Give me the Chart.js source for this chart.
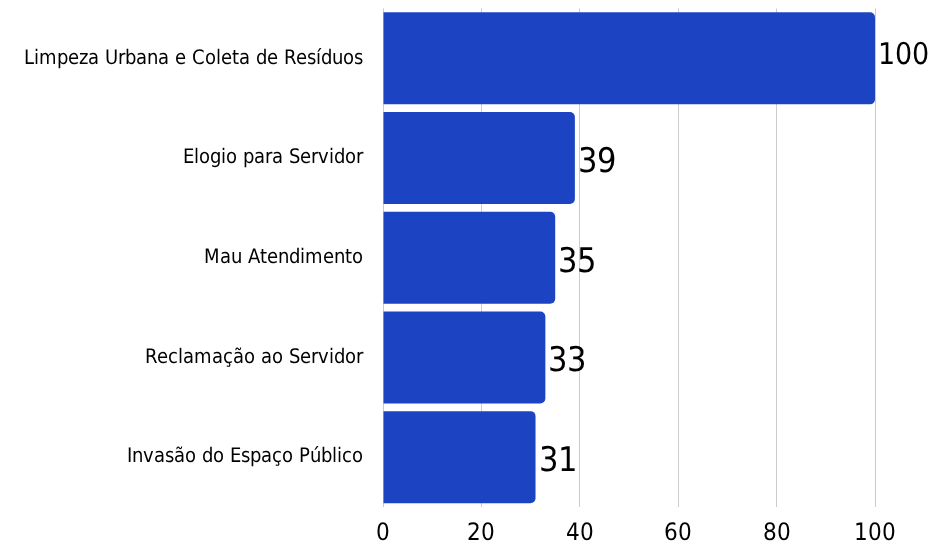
<!DOCTYPE html>
<html>
<head>
<meta charset="utf-8">
<script src="https://cdn.jsdelivr.net/npm/chart.js@4/dist/chart.umd.min.js"></script>
<style>
  @font-face { font-family: 'CondB'; src: local('DejaVu Sans Condensed'), local('DejaVuSansCondensed'); }
  html, body { margin: 0; padding: 0; background: #ffffff; }
  #wrap { width: 930px; height: 543px; position: relative; }
</style>
</head>
<body>
<div id="wrap"><canvas id="c"></canvas></div>
<script>
const categories = [
  "Limpeza Urbana e Coleta de Resíduos",
  "Elogio para Servidor",
  "Mau Atendimento",
  "Reclamação ao Servidor",
  "Invasão do Espaço Público"
];
const values = [100, 39, 35, 33, 31];
const xTicks = [0, 20, 40, 60, 80, 100];

const FONT = "CondB, 'DejaVu Sans', sans-serif";

const valueLabels = {
  id: 'valueLabels',
  afterDatasetsDraw(chart) {
    const ctx = chart.ctx;
    const meta = chart.getDatasetMeta(0);
    ctx.save();
    ctx.fillStyle = "#000000";
    ctx.textAlign = "left";
    ctx.textBaseline = "middle";
    meta.data.forEach((bar, i) => {
      const txt = String(values[i]);
      const x = bar.x + 3;
      let size = 34;
      ctx.font = size + "px " + FONT;
      const room = chart.width - x;
      let shrunk = false;
      while (ctx.measureText(txt).width > room && size > 10) {
        size -= 1; shrunk = true;
        ctx.font = size + "px " + FONT;
      }
      ctx.fillText(txt, x, bar.y + (shrunk ? -2 : 5));
    });
    ctx.restore();
  }
};

function draw() {
new Chart(document.getElementById('c'), {
  type: 'bar',
  data: {
    labels: categories,
    datasets: [{
      data: values,
      backgroundColor: '#1c44c2',
      borderRadius: 5,
      borderSkipped: 'start',
      barPercentage: 0.923,
      categoryPercentage: 1.0
    }]
  },
  options: {
    indexAxis: 'y',
    responsive: true,
    maintainAspectRatio: false,
    animation: false,
    layout: { padding: { top: 8.5, right: 55, bottom: 0, left: 0 } },
    plugins: { legend: { display: false }, tooltip: { enabled: false } },
    scales: {
      x: {
        min: 0, max: 100,
        afterBuildTicks(scale) { scale.ticks = xTicks.map(v => ({ value: v })); },
        afterFit(scale) { scale.height = 36; },
        grid: { color: '#cccccc', drawTicks: false },
        border: { display: false },
        ticks: { color: '#000000', font: { family: FONT, size: 24 }, padding: 12 }
      },
      y: {
        grid: { display: false, drawTicks: false },
        border: { display: false },
        afterFit(scale) { scale.width = 383; scale.paddingTop = 0; scale.paddingBottom = 0; },
        ticks: { color: '#000000', font: { family: FONT, size: 20 }, padding: 20 }
      }
    }
  },
  plugins: [valueLabels]
});
}
document.fonts.load("22px CondB").then(draw, draw);
</script>
</body>
</html>
